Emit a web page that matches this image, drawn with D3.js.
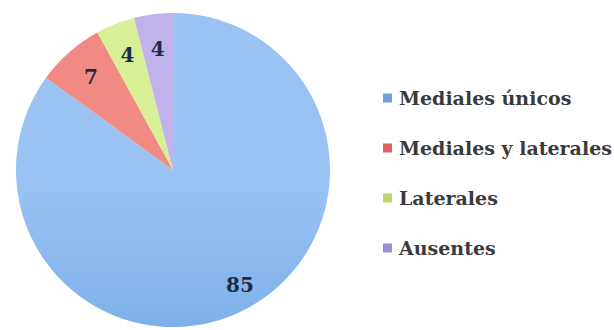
<!DOCTYPE html>
<html>
<head>
<meta charset="utf-8">
<script src="https://cdn.jsdelivr.net/npm/d3@7"></script>
<style>
  html, body { margin: 0; padding: 0; background: #ffffff; }
  svg { display: block; }
</style>
</head>
<body>
<svg id="chart" width="614" height="330"></svg>
<script>
// Distribución de nervios (porcentaje)
const categories = ["Mediales únicos", "Mediales y laterales", "Laterales", "Ausentes"];
const values = [85, 7, 4, 4];
const topColors = ["#9ac3f3", "#f08a82", "#d8f095", "#c2b2ec"];
const bottomColors = ["#5b9ae0", "#e0655d", "#b9dc6a", "#9d8cd8"];
const legendColors = ["#6f9fe0", "#e0605e", "#bcd66a", "#9a90d4"];

const width = 614, height = 330;
const cx = 173, cy = 170, radius = 157;

const svg = d3.select("#chart");
const defs = svg.append("defs");

categories.forEach((c, i) => {
  const g = defs.append("linearGradient")
    .attr("id", "grad" + i)
    .attr("gradientUnits", "userSpaceOnUse")
    .attr("x1", 0).attr("y1", cy - radius)
    .attr("x2", 0).attr("y2", cy + radius);
  g.append("stop").attr("offset", "0%").attr("stop-color", topColors[i]);
  g.append("stop").attr("offset", "100%").attr("stop-color", bottomColors[i]);
});

const data = categories.map((c, i) => ({ name: c, value: values[i], i }));

const pie = d3.pie().sort(null).value(d => d.value);
const arc = d3.arc().innerRadius(0).outerRadius(radius);

const g = svg.append("g").attr("transform", `translate(${cx},${cy})`);
const arcs = pie(data);

g.selectAll("path.slice")
  .data(arcs)
  .join("path")
  .attr("class", "slice")
  .attr("d", arc)
  .attr("fill", d => `url(#grad${d.data.i})`);

// Value labels placed along each slice (radius fraction, angular nudge)
const labelRadius = [0.85, 0.79, 0.79, 0.78];
const labelNudge = [-0.055, 0, 0, 0];
g.selectAll("text.val")
  .data(arcs)
  .join("text")
  .attr("class", "val")
  .attr("transform", d => {
    const r = radius * labelRadius[d.data.i];
    const a = (d.startAngle + d.endAngle) / 2 + labelNudge[d.data.i];
    return `translate(${r * Math.sin(a)},${-r * Math.cos(a)})`;
  })
  .attr("text-anchor", "middle")
  .attr("dominant-baseline", "central")
  .attr("font-family", "'DejaVu Serif', serif")
  .attr("font-weight", "bold")
  .attr("font-size", 20)
  .attr("fill", "#1e2c48")
  .text(d => d.data.value);

// Legend
const legendY = d3.scalePoint().domain(categories).range([98, 248]);
const legend = svg.append("g");
const item = legend.selectAll("g")
  .data(data)
  .join("g")
  .attr("transform", d => `translate(383,${legendY(d.name)})`);

item.append("rect")
  .attr("x", 0).attr("y", -4.5)
  .attr("width", 9).attr("height", 9)
  .attr("fill", d => legendColors[d.i]);

item.append("text")
  .attr("x", 16)
  .attr("y", 0)
  .attr("dominant-baseline", "central")
  .attr("font-family", "'DejaVu Serif', serif")
  .attr("font-weight", "bold")
  .attr("font-size", 19)
  .attr("fill", "#3a3a3a")
  .text(d => d.name);
</script>
</body>
</html>
